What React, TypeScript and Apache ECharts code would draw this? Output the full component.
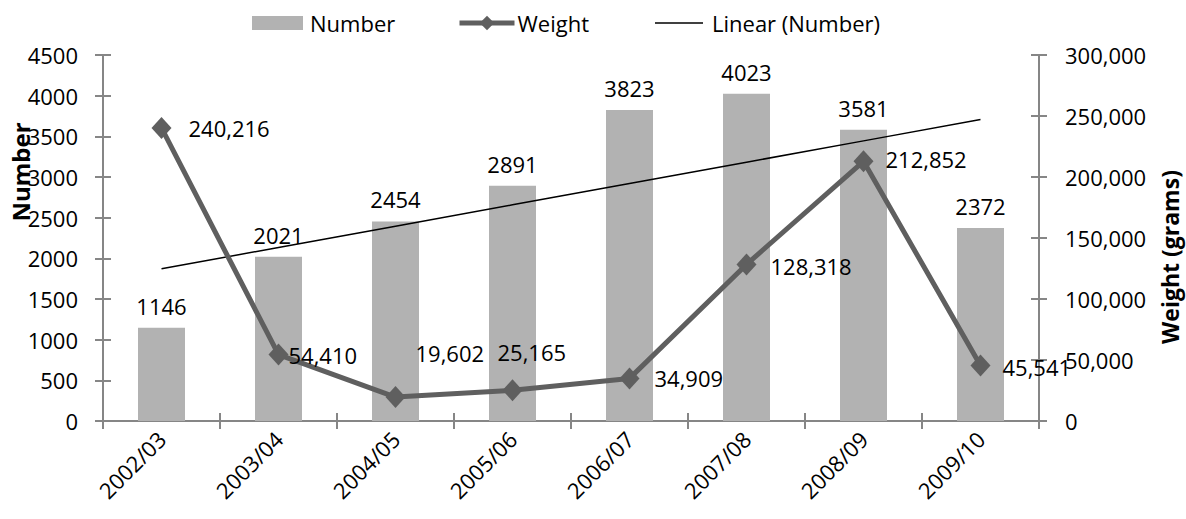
import React, { useEffect, useRef } from "react";
import * as echarts from "echarts";

// Season categories
const seasons = ["2002/03", "2003/04", "2004/05", "2005/06", "2006/07", "2007/08", "2008/09", "2009/10"];
// Number of seizures per season
const numberValues = [1146, 2021, 2454, 2891, 3823, 4023, 3581, 2372];
// Weight seized (grams) per season
const weightValues = [240216, 54410, 19602, 25165, 34909, 128318, 212852, 45541];
// Tick settings
const numberMax = 4500;
const numberStep = 500;
const weightMax = 300000;
const weightStep = 50000;

const FONT = "'Open Sans', 'Noto Sans', sans-serif";
const AXIS_COLOR = "#868686";
const WEIGHT_COLOR = "#5f5f5f";

// Least-squares linear trend of the Number series
function linearTrend(values: number[]): number[] {
  const n = values.length;
  const xs = values.map((_, i) => i + 1);
  const mx = xs.reduce((a, b) => a + b, 0) / n;
  const my = values.reduce((a, b) => a + b, 0) / n;
  let sxy = 0;
  let sxx = 0;
  for (let i = 0; i < n; i++) {
    sxy += (xs[i] - mx) * (values[i] - my);
    sxx += (xs[i] - mx) * (xs[i] - mx);
  }
  const slope = sxy / sxx;
  const intercept = my - slope * mx;
  return xs.map((x) => Math.round((intercept + slope * x) * 10) / 10);
}

// Per-point label placement for the Weight line
const weightLabelPlacement: { distance: number; offset: [number, number] }[] = [
  { distance: 17, offset: [0, 0] },
  { distance: 0, offset: [0, 0] },
  { distance: 10, offset: [0, -44] },
  { distance: 0, offset: [-25, -38] },
  { distance: 15, offset: [0, 0] },
  { distance: 14, offset: [0, 2] },
  { distance: 12, offset: [0, -2] },
  { distance: 12, offset: [0, 2] },
];

const fmt = (v: number) => v.toLocaleString("en-US");

const legendText = { fontFamily: FONT, fontSize: 22, color: "#000" };

export default function App() {
  const ref = useRef<HTMLDivElement>(null);

  useEffect(() => {
    if (!ref.current) return;
    const chart = echarts.init(ref.current, undefined, { renderer: "svg" });
    const trend = linearTrend(numberValues);

    const grid = { left: 103, right: 147, top: 55, bottom: 98, containLabel: false };

    chart.setOption({
      animation: false,
      backgroundColor: "#ffffff",
      textStyle: { fontFamily: FONT },
      grid,
      legend: [
        {
          left: 252,
          top: 12,
          padding: 0,
          itemWidth: 51,
          itemHeight: 14,
          itemGap: 0,
          textStyle: { ...legendText, padding: [0, 0, 0, 2] },
          data: [{ name: "Number", icon: "rect" }],
        },
        {
          left: 457,
          top: 12,
          padding: 0,
          itemWidth: 55,
          itemHeight: 18,
          itemGap: 0,
          lineStyle: { width: 5 },
          textStyle: { ...legendText, padding: [0, 0, 0, -2] },
          data: [{ name: "Weight" }],
        },
        {
          left: 655,
          top: 12,
          padding: 0,
          itemWidth: 48,
          itemHeight: 14,
          itemGap: 0,
          textStyle: { ...legendText, padding: [0, 0, 0, 4] },
          data: [
            {
              name: "Linear (Number)",
              icon: "path://M0,6.3 L48,6.3 L48,7.7 L0,7.7 Z",
              itemStyle: { color: "#000" },
            },
          ],
        },
      ],
      xAxis: [
        {
          type: "category",
          data: seasons,
          boundaryGap: true,
          axisLine: { show: true, lineStyle: { color: AXIS_COLOR, width: 2 } },
          axisTick: { show: true, length: 8, lineStyle: { color: AXIS_COLOR, width: 2 } },
          axisLabel: { rotate: 45, margin: 14, fontSize: 22, color: "#000", fontFamily: FONT },
          splitLine: { show: false },
        },
        {
          type: "category",
          data: seasons,
          position: "bottom",
          boundaryGap: true,
          axisLine: { show: false },
          axisTick: { show: true, inside: true, length: 8, lineStyle: { color: AXIS_COLOR, width: 2 } },
          axisLabel: { show: false },
          splitLine: { show: false },
        },
      ],
      yAxis: [
        {
          type: "value",
          position: "left",
          min: 0,
          max: numberMax,
          interval: numberStep,
          axisLine: { show: true, lineStyle: { color: AXIS_COLOR, width: 2 } },
          axisTick: { show: true, length: 8, lineStyle: { color: AXIS_COLOR, width: 2 } },
          axisLabel: {
            margin: 25,
            fontSize: 22,
            color: "#000",
            fontFamily: FONT,
            formatter: (v: number) => String(v),
          },
          splitLine: { show: false },
        },
        {
          type: "value",
          position: "right",
          min: 0,
          max: weightMax,
          interval: weightStep,
          axisLine: { show: true, lineStyle: { color: AXIS_COLOR, width: 2 } },
          axisTick: { show: true, length: 8, lineStyle: { color: AXIS_COLOR, width: 2 } },
          axisLabel: { margin: 26, fontSize: 22, color: "#000", fontFamily: FONT, formatter: (v: number) => fmt(v) },
          splitLine: { show: false },
        },
        {
          type: "value",
          position: "left",
          min: 0,
          max: numberMax,
          interval: numberStep,
          axisLine: { show: false },
          axisTick: { show: true, inside: true, length: 8, lineStyle: { color: AXIS_COLOR, width: 2 } },
          axisLabel: { show: false },
          splitLine: { show: false },
        },
        {
          type: "value",
          position: "right",
          min: 0,
          max: weightMax,
          interval: weightStep,
          axisLine: { show: false },
          axisTick: { show: true, inside: true, length: 8, lineStyle: { color: AXIS_COLOR, width: 2 } },
          axisLabel: { show: false },
          splitLine: { show: false },
        },
      ],
      series: [
        {
          name: "Number",
          type: "bar",
          xAxisIndex: 0,
          yAxisIndex: 0,
          data: numberValues,
          barWidth: 47,
          itemStyle: { color: "#b2b2b2" },
          label: {
            show: true,
            position: "top",
            distance: 11,
            fontSize: 22,
            color: "#000",
            fontFamily: FONT,
          },
          z: 1,
        },
        {
          name: "Linear (Number)",
          type: "line",
          xAxisIndex: 0,
          yAxisIndex: 0,
          data: trend,
          symbol: "none",
          lineStyle: { color: "#000", width: 1.5 },
          itemStyle: { color: "#000" },
          z: 2,
        },
        {
          name: "Weight",
          type: "line",
          xAxisIndex: 0,
          yAxisIndex: 1,
          symbol: "diamond",
          symbolSize: [20, 22],
          lineStyle: { color: WEIGHT_COLOR, width: 5 },
          itemStyle: { color: WEIGHT_COLOR },
          data: weightValues.map((v, i) => ({
            value: v,
            label: {
              position: "right",
              distance: weightLabelPlacement[i].distance,
              offset: weightLabelPlacement[i].offset,
            },
          })),
          label: {
            show: true,
            position: "right",
            fontSize: 22,
            color: "#000",
            fontFamily: FONT,
            formatter: (p: any) => fmt(p.value as number),
          },
          z: 3,
        },
      ],
      graphic: [
        {
          type: "text",
          x: 20,
          y: 172,
          rotation: Math.PI / 2,
          style: {
            text: "Number",
            fontSize: 24,
            fontWeight: "bold",
            fontFamily: FONT,
            fill: "#000",
            align: "center",
            verticalAlign: "middle",
          },
          z: 10,
        },
        {
          type: "text",
          x: 1170,
          y: 257,
          rotation: Math.PI / 2,
          style: {
            text: "Weight (grams)",
            fontSize: 23,
            fontWeight: "bold",
            fontFamily: FONT,
            fill: "#000",
            align: "center",
            verticalAlign: "middle",
          },
          z: 10,
        },
      ],
    });

    return () => chart.dispose();
  }, []);

  return (
    <div
      ref={ref}
      style={{ position: "fixed", left: 0, top: 0, width: 1186, height: 519 }}
    />
  );
}
